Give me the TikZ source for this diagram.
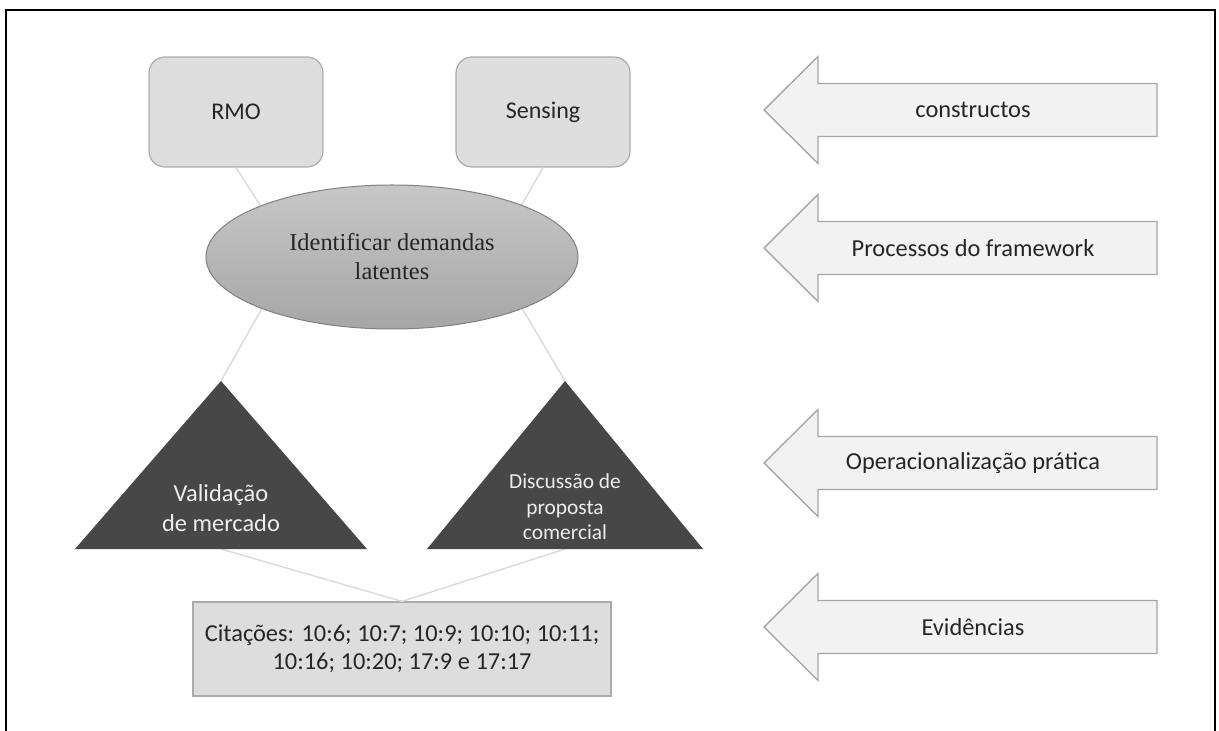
\documentclass[tikz,border=0pt]{standalone}
\usepackage{fontspec}
\setmainfont{Carlito}
\newfontfamily\serifface{Liberation Serif}
\usetikzlibrary{shapes.geometric}

\definecolor{ink}{HTML}{262626}
\definecolor{boxfill}{HTML}{DDDDDD}
\definecolor{boxline}{HTML}{ABABAB}
\definecolor{arrowfill}{HTML}{F2F2F2}
\definecolor{arrowline}{HTML}{A6A6A6}
\definecolor{linkline}{HTML}{D9D9D9}
\definecolor{darkfill}{HTML}{474747}
\definecolor{lighttext}{HTML}{EDEDED}

% left-pointing labelled arrow: name, centre y, text
\newcommand\levelarrow[3]{%
  \draw[arrowshape] (764,#2) -- (818,#2-53.5) -- (818,#2-26.5) -- (1157,#2-26.5)
    -- (1157,#2+26.5) -- (818,#2+26.5) -- (818,#2+53.5) -- cycle;
  \node[arrowtext] (#1) at (973,#2) {#3};
}

\begin{document}
\begin{tikzpicture}[x=0.5pt,y=-0.5pt,
  roundbox/.style={draw=boxline, fill=boxfill, line width=0.6pt, rounded corners=8pt,
    minimum width=87pt, minimum height=55pt, inner sep=0pt, text=ink,
    font=\fontsize{12}{14}\selectfont},
  centralnode/.style={ellipse, draw=black!50, line width=0.5pt,
    top color=black!22, bottom color=black!35,
    minimum width=186pt, minimum height=72pt, inner sep=0pt, align=center, text=ink,
    font=\serifface\fontsize{12.2}{14.5}\selectfont},
  citebox/.style={draw=boxline, fill=boxfill, line width=0.6pt,
    minimum width=209pt, minimum height=47pt, inner sep=0pt, align=center, text=ink,
    font=\fontsize{12.2}{14}\selectfont},
  darktri/.style={fill=darkfill},
  tritext/.style={align=center, text=lighttext, inner sep=0pt},
  link/.style={draw=linkline, line width=0.7pt},
  arrowshape/.style={fill=arrowfill, draw=arrowline, line width=0.7pt, line join=miter},
  arrowtext/.style={text=ink, inner sep=0pt, font=\fontsize{12.2}{14}\selectfont},
  frameline/.style={draw=black, line width=1pt}
]
\useasboundingbox (0,0) rectangle (1219,731);

% outer frame, open at the bottom
\draw[frameline] (6,731) -- (6,10) -- (1215,10) -- (1215,731);

% hidden meeting points of the connectors behind the ellipse
\coordinate (hubL) at (292,255);
\coordinate (hubR) at (492,257);

% constructs
\node[roundbox] (rmo) at (236,112) {RMO};
\node[roundbox] (sensing) at (543,112) {Sensing};

% triangle corners
\coordinate (valTop) at (221,381);
\coordinate (valL) at (75,549);
\coordinate (valR) at (367,549);
\coordinate (valBase) at (221,549);
\coordinate (disTop) at (565,381);
\coordinate (disL) at (427,549);
\coordinate (disR) at (703,549);
\coordinate (disBase) at (565,549);

% evidence box
\node[citebox] (cites) at (402,649) {Citações: 10:6; 10:7; 10:9; 10:10; 10:11;\\10:16; 10:20; 17:9 e 17:17};

% connectors
\draw[link] (rmo.south) -- (hubL);
\draw[link] (sensing.south) -- (hubR);
\draw[link] (hubL) -- (valTop);
\draw[link] (hubR) -- (disTop);
\draw[link] (valBase) -- (cites.north);
\draw[link] (disBase) -- (cites.north);

% framework process
\node[centralnode] (ident) at (392,257) {Identificar demandas\\latentes};

% practical operationalisation
\fill[darktri] (valTop) -- (valR) -- (valL) -- cycle;
\fill[darktri] (disTop) -- (disR) -- (disL) -- cycle;
\node[tritext, font=\fontsize{12.2}{15}\selectfont] (valid) at (221,508) {Validação\\de mercado};
\node[tritext, font=\fontsize{10.7}{12.8}\selectfont] (discuss) at (565,507) {Discussão de\\proposta\\comercial};

% level arrows
\levelarrow{lvlA}{110}{constructos}
\levelarrow{lvlB}{248}{Processos do framework}
\levelarrow{lvlC}{463}{Operacionalização prática}
\levelarrow{lvlD}{627}{Evidências}
\end{tikzpicture}
\end{document}
